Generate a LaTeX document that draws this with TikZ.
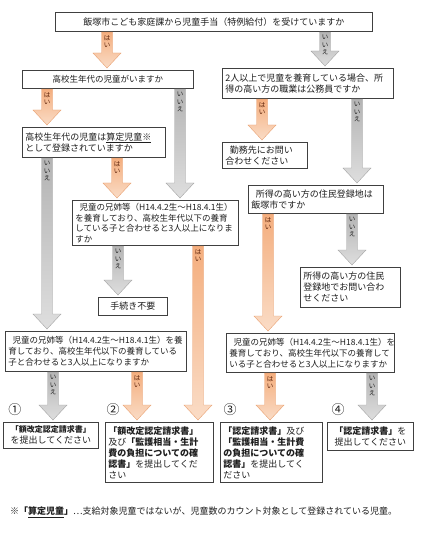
\documentclass[tikz,border=0pt]{standalone}
\usepackage{fontspec}
\usetikzlibrary{calc}
\newfontfamily\jp{Noto Sans CJK JP}
\newcommand\jpf[2]{\jp\fontsize{#1}{#2}\selectfont}
\definecolor{boxc}{HTML}{404040}
\definecolor{txtc}{HTML}{1E1E1E}
\definecolor{orT}{HTML}{F4AE7E}
\definecolor{orB}{HTML}{FADCC6}
\definecolor{orD}{HTML}{E9A070}
\definecolor{grT}{HTML}{B4B4B4}
\definecolor{grB}{HTML}{DEDEDE}
\definecolor{grD}{HTML}{A4A4A4}
\definecolor{orL}{HTML}{5A2008}
\definecolor{grL}{HTML}{202020}
\def\sw{5.5}
\def\hw{14}
\def\hl{15}
% #1 name, #2 source node, #3 target node, #4 x, #5 kind (or/gr), #6 label
\newcommand\flowarr[6]{%
  \path (#4,0) coordinate (#1x);
  \coordinate (#1s) at ($(#2.south -| #1x)+(0,0.4)$);
  \coordinate (#1e) at ($(#3.north -| #1x)+(0,-2)$);
  \shadedraw[#5arr] ($(#1s)+(-\sw,0)$) -- ($(#1e)+(-\sw,-\hl)$) -- ($(#1e)+(-\hw,-\hl)$) -- (#1e)
     -- ($(#1e)+(\hw,-\hl)$) -- ($(#1e)+(\sw,-\hl)$) -- ($(#1s)+(\sw,0)$) -- cycle;
  \node[#5lab, anchor=north] (#1l) at ($(#1s)+(0,3)$) {#6};
}
\begin{document}
\begin{tikzpicture}[x=1pt,y=-1pt,
  box/.style={draw=boxc, line width=0.7pt, fill=white, anchor=north west,
    inner xsep=3pt, inner ysep=1pt, align=left, text=txtc, font=\jpf{9}{11}},
  orarr/.style={top color=orT, bottom color=orB, draw=orD, line width=0.4pt},
  grarr/.style={top color=grT, bottom color=grB, draw=grD, line width=0.4pt},
  orlab/.style={font=\jpf{6.5}{7.5}, text=orL, align=center, inner sep=0pt},
  grlab/.style={font=\jpf{6.5}{7.5}, text=grL, align=center, inner sep=0pt},
  num/.style={font=\jpf{13}{14}, text=txtc, inner sep=0pt},
  note/.style={font=\jpf{9}{11}, text=txtc, inner sep=0pt, anchor=west}]
\fill[white] (0,0) rectangle (421,534);
\useasboundingbox (0,0) rectangle (421,534);

% boxes
\node[box, align=center, text width=311, minimum height=19] (b1) at (55,12)
  {飯塚市こども家庭課から児童手当（特例給付）を受けていますか};
\node[box, align=center, text width=165, minimum height=18, font=\jpf{8.5}{11}] (b2) at (22,70)
  {高校生年代の児童がいますか};
\node[box, text width=165, minimum height=30] (b3) at (222,68)
  {2人以上で児童を養育している場合、所\\得の高い方の職業は公務員ですか};
\node[box, text width=137, minimum height=30] (b4) at (22,127)
  {高校生年代の児童は\underline{算定児童※}\\として登録されていますか};
\node[box, text width=160, minimum height=45, font=\jpf{8.5}{10.5}] (b5) at (72,200)
  {\hspace*{0.5em}児童の兄姉等（H14.4.2生～H18.4.1生）\\を養育しており、高校生年代以下の養育\\している子と合わせると3人以上になりま\\すか};
\node[box, align=center, text width=63, minimum height=18] (b6) at (98,297)
  {手続き不要};
\node[box, text width=79, minimum height=26] (kin) at (222,142)
  {\hspace*{0.5em}勤務先にお問い\\合わせください};
\node[box, text width=129, minimum height=28] (jum) at (248,185)
  {\hspace*{0.5em}所得の高い方の住民登録地は\\飯塚市ですか};
\node[box, text width=94, minimum height=40] (toi) at (300,267)
  {所得の高い方の住民\\登録地でお問い合わ\\せください};
\node[box, text width=175, minimum height=40, font=\jpf{8.5}{11}] (b7) at (5,331)
  {\hspace*{0.5em}児童の兄姉等（H14.4.2生～H18.4.1生）を養\\育しており、高校生年代以下の養育している\\子と合わせると3人以上になりますか};
\node[box, text width=162, minimum height=39, font=\jpf{8.5}{11}] (b8) at (226,333)
  {\hspace*{0.5em}児童の兄姉等（H14.4.2生～H18.4.1生）を\\養育しており、高校生年代以下の養育して\\いる子と合わせると3人以上になりますか};
\node[box, align=center, text width=89, minimum height=26] (bA) at (3,422)
  {{\jpf{8}{11}\bfseries 「額改定認定請求書」}\\を提出してください};
\node[box, text width=102, minimum height=60] (bB) at (105,422)
  {\textbf{「額改定認定請求書」}\\及び\textbf{「監護相当・生計}\\\textbf{費の負担についての確}\\\textbf{認書」}を提出してくだ\\さい};
\node[box, text width=96, minimum height=60] (bC) at (220,422)
  {\textbf{「認定請求書」}及び\\\textbf{「監護相当・生計費}\\\textbf{の負担についての確}\\\textbf{認書」}を提出してく\\ださい};
\node[box, align=center, text width=80, minimum height=28] (bD) at (327,422)
  {\textbf{「認定請求書」}を\\提出してください};

% circled numbers
\node[num] (n1) at (15,410) {①};
\node[num] (n2) at (113,410) {②};
\node[num] (n3) at (230,410) {③};
\node[num] (n4) at (338,410) {④};

% arrows
\flowarr{a1}{b1}{b2}{107}{or}{は\\い}
\flowarr{a2}{b1}{b3}{325}{gr}{い\\い\\え}
\flowarr{a3}{b2}{b4}{47}{or}{は\\い}
\flowarr{a4}{b2}{b5}{180}{gr}{い\\い\\え}
\flowarr{a5}{b4}{b5}{117}{or}{は\\い}
\flowarr{a6}{b4}{b7}{47}{gr}{い\\い\\え}
\flowarr{a7}{b5}{b6}{118}{gr}{い\\い\\え}
\flowarr{a8}{b5}{bB}{198}{or}{は\\い}
\flowarr{a9}{b3}{kin}{262}{or}{は\\い}
\flowarr{a10}{b3}{jum}{357}{gr}{い\\い\\え}
\flowarr{a11}{jum}{b8}{268}{or}{は\\い}
\flowarr{a12}{jum}{toi}{352}{gr}{い\\い\\え}
\flowarr{a13}{b7}{bA}{53}{gr}{い\\い\\え}
\flowarr{a14}{b7}{bB}{137}{or}{は\\い}
\flowarr{a15}{b8}{bC}{270}{or}{は\\い}
\flowarr{a16}{b8}{bD}{372}{gr}{い\\い\\え}

% footnote
\node[note] (fn) at (10,512)
  {※\textbf{「\underline{算定児童}」}…支給対象児童ではないが、児童数のカウント対象として登録されている児童。};
\end{tikzpicture}
\end{document}
